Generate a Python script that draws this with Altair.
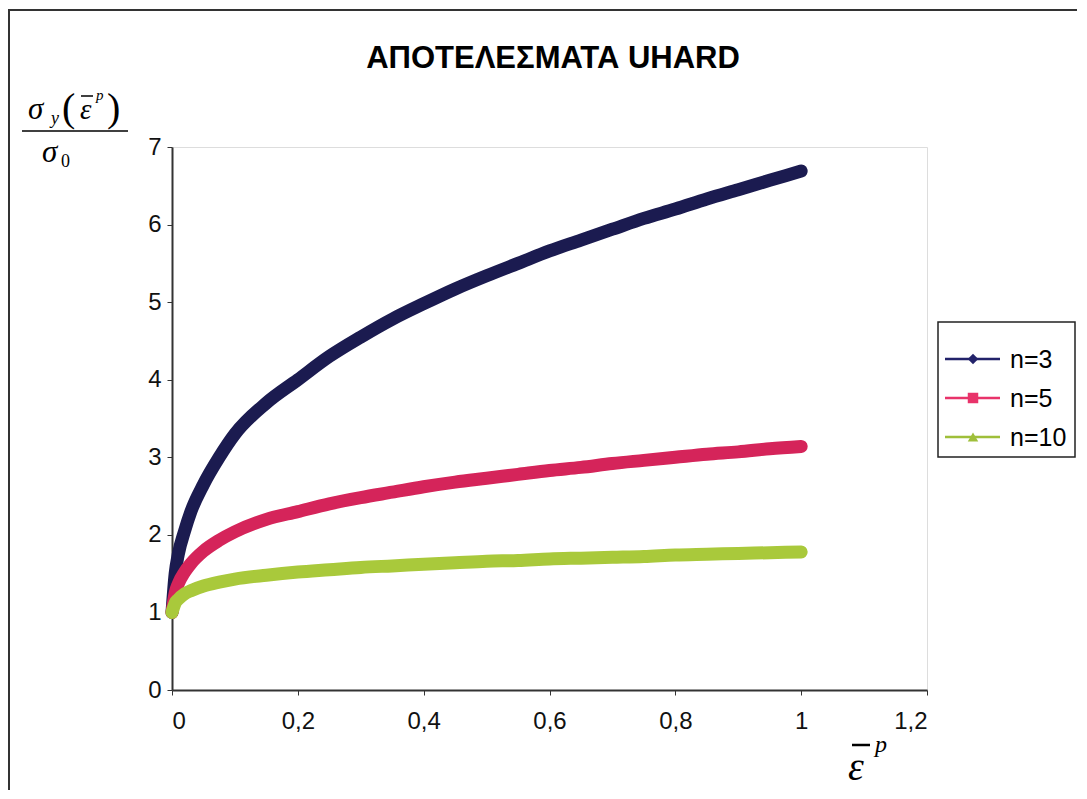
import altair as alt
import pandas as pd

TITLE = "ΑΠΟΤΕΛΕΣΜΑΤΑ UHARD"
SERIES = ["n=3", "n=5", "n=10"]
COLORS = ["#1b1b50", "#d5245a", "#a9c93b"]
LEGEND_COLORS = ["#22226a", "#e8336a", "#9fbf3a"]
LEGEND_SHAPES = ["diamond", "square", "triangle-up"]

EPS = [0, 0.005, 0.01, 0.02, 0.03, 0.05, 0.075, 0.1, 0.15, 0.2, 0.25, 0.3, 0.35,
       0.4, 0.45, 0.5, 0.55, 0.6, 0.65, 0.7, 0.75, 0.8, 0.85, 0.9, 0.95, 1.0]
N3 = [1.0, 1.5, 1.75, 2.05, 2.3, 2.65, 3.0, 3.3, 3.7, 4.0, 4.3, 4.55, 4.78,
      4.98, 5.17, 5.34, 5.5, 5.66, 5.8, 5.94, 6.08, 6.2, 6.33, 6.45, 6.57, 6.69]
N5 = [1.0, 1.25, 1.37, 1.52, 1.63, 1.79, 1.93, 2.04, 2.2, 2.3, 2.4, 2.48, 2.55,
      2.62, 2.68, 2.73, 2.78, 2.83, 2.87, 2.92, 2.96, 3.0, 3.04, 3.07, 3.11, 3.14]
N10 = [1.0, 1.12, 1.17, 1.24, 1.28, 1.34, 1.39, 1.43, 1.48, 1.52, 1.55, 1.58, 1.6,
       1.62, 1.64, 1.66, 1.67, 1.69, 1.7, 1.71, 1.72, 1.74, 1.75, 1.76, 1.77, 1.78]

X_TICKS = [0, 0.2, 0.4, 0.6, 0.8, 1.0, 1.2]
Y_TICKS = [0, 1, 2, 3, 4, 5, 6, 7]

rows = []
for s, vals in zip(SERIES, [N3, N5, N10]):
    for x, y in zip(EPS, vals):
        rows.append({"series": s, "eps": x, "ratio": y})
df = pd.DataFrame(rows)

SANS = "Liberation Sans"
SERIF = "Liberation Serif"
W, H = 755, 543

x_enc = alt.X("eps:Q", scale=alt.Scale(domain=[0, 1.2], nice=False),
              axis=alt.Axis(values=X_TICKS, title=None,
                            labelExpr="replace(format(datum.value, '.1~f'), '.', ',')",
                            labelFontSize=24, labelFont=SANS, labelColor="#111",
                            labelPadding=14, tickSize=5, grid=False,
                            domainColor="#333", domainWidth=2, tickColor="#333"))
y_enc = alt.Y("ratio:Q", scale=alt.Scale(domain=[0, 7], nice=False),
              axis=alt.Axis(values=Y_TICKS, title=None, labelFontSize=24,
                            labelExpr="format(datum.value, 'd')",
                            labelFont=SANS, labelColor="#111", labelPadding=6,
                            tickSize=5, grid=False, domainColor="#333",
                            domainWidth=2, tickColor="#333"))

lines = alt.Chart(df).mark_line(strokeWidth=13, strokeCap="round",
                                strokeJoin="round", interpolate="monotone").encode(
    x=x_enc, y=y_enc,
    color=alt.Color("series:N", scale=alt.Scale(domain=SERIES, range=COLORS), legend=None),
    detail="series:N",
)

one = pd.DataFrame({"a": [0]})


def txt(t, px, py, size, font=SERIF, style="italic", weight="normal", align="left",
        baseline="alphabetic"):
    return alt.Chart(one).mark_text(text=t, align=align, baseline=baseline,
                                    fontSize=size, font=font, fontStyle=style,
                                    fontWeight=weight, color="black").encode(
        x=alt.value(px), y=alt.value(py))


def bar(x1, x2, yy, w=1.5, color="black"):
    return alt.Chart(one).mark_rule(color=color, strokeWidth=w).encode(
        x=alt.value(x1), x2=alt.value(x2), y=alt.value(yy))


annots = [
    # title
    txt(TITLE, 381, -79, 31, font=SANS, style="normal", weight="bold", align="center"),
    # y-axis fraction
    txt("σ", -144, -28, 31),
    txt("y", -121, -23, 18),
    txt("(", -110, -26, 40, style="normal"),
    txt("ε", -92, -28, 29),
    bar(-91, -79, -51),
    txt("p", -76, -47, 15),
    txt(")", -65, -26, 40, style="normal"),
    bar(-150, -44, -16, 1.5),
    txt("σ", -130, 15, 31),
    txt("0", -111, 20, 18, style="normal"),
    # x-axis title
    txt("ε", 676, 633, 40),
    bar(680, 698, 598, 2.5),
    txt("p", 703, 605, 24),
]

# legend (drawn as annotation)
legend_parts = [
    alt.Chart(one).mark_rect(fill="white", stroke="#222", strokeWidth=1.5).encode(
        x=alt.value(766), x2=alt.value(903), y=alt.value(175), y2=alt.value(310))
]
for i, (name, col, shp) in enumerate(zip(SERIES, LEGEND_COLORS, LEGEND_SHAPES)):
    yy = 212 + 39 * i
    legend_parts.append(bar(773, 828, yy, 2.5, col))
    legend_parts.append(
        alt.Chart(one).mark_point(shape=shp, filled=True, size=110, color=col, opacity=1).encode(
            x=alt.value(801), y=alt.value(yy)))
    legend_parts.append(txt(name, 838, yy + 1, 25, font=SANS, style="normal",
                            baseline="middle"))

frame = alt.Chart(one).mark_rect(fill="transparent", stroke="#333", strokeWidth=2).encode(
    x=alt.value(-163), x2=alt.value(935), y=alt.value(-137), y2=alt.value(670))

chart = alt.layer(frame, lines, *annots, *legend_parts).properties(
    width=W, height=H,
    autosize=alt.AutoSizeParams(type="none"),
    padding={"left": 164, "top": 139, "right": 150, "bottom": 100},
).configure_view(stroke="#333", strokeWidth=2).configure(background="white")

chart.save("out.html", embed_options={"renderer": "svg", "actions": False})
